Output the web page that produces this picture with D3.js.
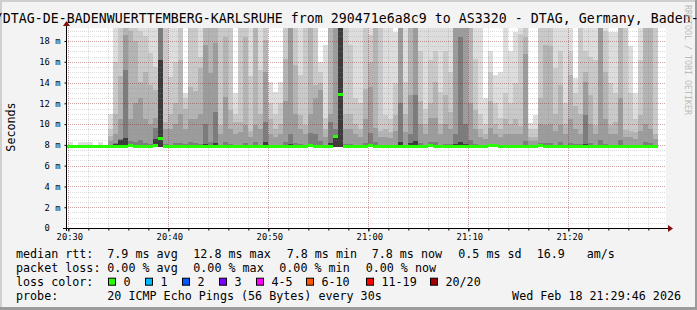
<!DOCTYPE html>
<html>
<head>
<meta charset="utf-8">
<script src="https://cdn.jsdelivr.net/npm/d3@7"></script>
<style>
  html, body { margin: 0; padding: 0; background: #f3f3f3; }
  svg { display: block; }
  text { font-family: "DejaVu Sans Mono", monospace; white-space: pre; }
</style>
</head>
<body>
<svg id="chart" width="697" height="310"></svg>
<script>
// ===== data (ms) =====
// one column every 30 s, first column starts 20:29:30 (partly outside the plot)
const graphStart = Date.UTC(2026, 1, 18, 20, 29, 46);
const graphEnd = Date.UTC(2026, 1, 18, 21, 29, 46);
const firstSample = Date.UTC(2026, 1, 18, 20, 29, 30);
const stepMs = 30 * 1000;
const minRtt = 7.75;
const yMax = 19.25;

// upper pings of each 20 ping round, from the highest (lightest smoke) down
const p20 = [7.9,
  8.3,7.9,8.3,8.3,8.3,7.9,8.3,7.9,11.0,20,
  20,20,20,20,20,20,20,20,20,20,
  20,20,20,13.0,20,20,20,20,20,20,
  20,20,20,13.0,20,20,20,20,20,20,
  14.1,13.1,14.1,20,20,20,20,20,20,20,
  16.0,17.6,20,20,20,20,20,20,20,20,
  20,20,20,20,20,18.9,20,20,20,20,
  20,20,20,20,20,20,20,20,20,20,
  20,20,20,12.5,17.0,14.7,15.0,20,17.0,18.9,
  20,20,10.1,10.9,20,20,20,20,20,20,
  20,14.4,20,20,20,20,20,20,18.9,18.9,
  20,20,17.5,13.0,20,20,20,20];
const p19 = [7.9,
  7.9,7.9,7.9,7.9,7.9,7.9,7.9,7.9,9.5,16.0,
  20,20,20,20,19.0,18.5,16.8,15.5,20,20,
  14.5,16.0,20,12.5,20,20,16.5,20,20,20,
  20,20,20,11.0,20,20,14.6,20,15.2,20,
  12.0,11.0,12.0,20,20,20,14.7,20,20,20,
  15.0,10.6,20,20,20,20,17.6,12.5,12.0,20,
  18.6,20,20,10.9,10.5,14.0,20,14.1,20,20,
  17.0,11.5,16.2,17.0,13.1,17.0,15.0,20,20,20,
  20,16.3,11.0,10.0,15.0,12.0,10.6,13.0,12.0,14.0,
  18.7,20,9.5,9.5,20,20,20,15.4,17.0,12.0,
  17.0,13.0,20,17.0,16.5,16.2,20,19.0,14.0,13.0,
  20,20,13.0,10.5,16.2,20,20,20];
const p18 = [7.9,
  7.9,7.9,7.9,7.9,7.9,7.9,7.9,7.9,8.9,11.0,
  14.6,20,19.0,18.0,14.1,15.0,13.8,13.3,20,10.2,
  11.0,12.0,16.2,11.5,13.6,13.2,15.4,20,20,20,
  9.9,18.4,11.4,10.2,10.2,18.4,9.3,20,11.0,18.1,
  10.5,9.5,10.0,16.3,20,15.7,10.9,9.9,20,13.8,
  14.0,9.5,20,20,20,11.0,11.0,10.0,9.5,13.4,
  16.0,20,9.3,9.5,9.2,10.9,20,11.0,20,20,
  12.2,10.0,12.0,14.1,10.0,12.8,11.2,20,20,20,
  20,11.4,9.5,9.0,12.2,10.0,9.5,10.5,10.0,10.5,
  9.8,18.4,8.8,8.8,12.5,17.6,17.5,11.0,13.8,10.0,
  14.7,11.7,11.0,15.0,12.8,9.9,20,15.0,9.9,10.2,
  20,9.4,9.3,9.2,10.9,20,20,9.0];
const p17 = [7.9,
  7.9,7.9,7.9,7.9,7.9,7.9,7.9,7.9,8.4,9.0,
  10.5,18.6,10.5,12.0,12.5,10.5,10.0,10.6,20,9.5,
  9.5,10.0,11.0,9.5,10.5,10.5,11.0,17.6,14.9,17.8,
  9.0,12.6,9.5,9.0,9.2,9.9,8.8,9.9,9.5,15.0,
  9.0,8.8,9.0,12.2,20,11.0,9.5,9.0,11.0,12.5,
  13.3,8.8,11.0,20,20,9.5,9.5,9.0,8.8,10.5,
  13.6,9.6,8.8,8.8,8.7,9.3,20,9.2,12.8,20,
  10.0,9.0,10.6,10.6,9.0,10.0,9.5,20,20,20,
  12.0,9.5,8.8,8.6,9.6,9.0,8.8,9.0,9.0,9.0,
  9.0,16.7,8.4,8.4,10.0,9.9,10.0,9.3,9.9,9.0,
  10.5,9.5,9.0,14.1,10.0,9.0,20,10.5,9.0,9.0,
  12.5,8.8,8.8,8.6,9.3,10.0,9.5,8.6];
const p14 = [7.9,
  7.9,7.9,7.9,7.9,7.9,7.9,7.9,7.9,8.0,8.2,
  8.6,15.2,8.4,8.3,8.5,8.2,8.1,9.6,20,8.1,
  8.0,8.2,8.2,8.1,8.3,8.2,8.1,10.0,8.3,11.2,
  8.0,8.3,8.1,8.0,8.0,8.2,8.0,8.3,8.0,10.2,
  8.0,8.0,8.0,8.3,9.0,8.2,8.1,8.0,9.1,9.0,
  8.4,8.0,10.2,9.5,20,8.1,8.1,8.0,8.0,8.2,
  9.1,8.3,8.0,8.0,8.0,8.0,12.0,8.0,9.0,12.8,
  8.2,8.0,8.3,8.3,8.0,8.1,8.1,9.0,18.4,10.0,
  8.5,8.1,8.0,8.0,8.1,8.0,8.0,8.0,8.0,8.0,
  8.0,8.4,7.9,7.9,8.2,8.2,8.2,8.0,8.3,8.0,
  8.2,8.1,8.1,10.9,8.2,8.0,8.5,8.1,8.0,8.0,
  8.5,8.0,8.0,8.0,8.0,8.3,8.2,8.0];
const p12 = [7.9,
  7.9,7.9,7.9,7.9,7.9,7.9,7.9,7.9,7.9,8.1,
  8.5,8.7,8.1,7.9,7.9,7.9,7.9,8.6,16.2,7.9,
  7.9,7.9,7.9,7.9,7.9,7.9,7.9,8.1,7.9,8.2,
  7.9,7.9,7.9,7.9,7.9,7.9,7.9,7.9,7.9,8.3,
  7.9,7.9,7.9,7.9,8.1,7.9,7.9,7.9,8.1,8.0,
  7.9,7.9,8.2,8.8,20,7.9,7.9,7.9,7.9,7.9,
  8.1,7.9,7.9,7.9,7.9,7.9,8.3,7.9,8.2,8.4,
  7.9,7.9,7.9,7.9,7.9,7.9,7.9,8.1,8.3,8.1,
  7.9,7.9,7.9,7.9,7.9,7.9,7.9,7.9,7.9,7.9,
  7.9,7.9,7.9,7.9,7.9,7.9,7.9,7.9,7.9,7.9,
  7.9,7.9,7.9,8.1,7.9,7.9,7.9,7.9,7.9,7.9,
  7.9,7.9,7.9,7.9,7.9,7.9,7.9,7.9];
const median = [7.8,
  7.8,7.8,7.8,7.8,7.8,7.8,7.8,7.8,7.8,7.8,
  7.8,7.8,7.9,7.8,7.8,7.8,7.8,7.9,8.6,7.8,
  7.8,7.8,7.8,7.8,7.8,7.8,7.8,7.8,7.8,7.8,
  7.8,7.8,7.8,7.8,7.8,7.8,7.8,7.8,7.8,7.8,
  7.8,7.8,7.8,7.8,7.8,7.8,7.8,7.8,7.9,7.8,
  7.8,7.8,7.8,8.8,12.8,7.8,7.8,7.8,7.8,7.8,
  7.9,7.8,7.8,7.8,7.8,7.8,7.8,7.8,7.8,7.8,
  7.8,7.8,7.9,7.8,7.8,7.8,7.8,7.8,7.8,7.8,
  7.8,7.8,7.8,7.8,7.9,7.9,7.8,7.8,7.8,7.8,
  7.8,7.8,7.8,7.8,7.9,7.8,7.8,7.8,7.8,7.8,
  7.8,7.8,7.8,7.8,7.8,7.8,7.8,7.8,7.8,7.8,
  7.8,7.8,7.8,7.8,7.8,7.8,7.8,7.8];

const smokeSeries = [p20, p19, p18, p17, p14, p12];
const smokeColors = ['#dddddd', '#c9c9c9', '#b4b4b4', '#9c9c9c', '#7c7c7c', '#3c3c3c'];

const yTicks = [0, 2, 4, 6, 8, 10, 12, 14, 16, 18];

const titleText = '/DTAG-DE-BADENWUERTTEMBERG-KARLSRUHE from 290471e6a8c9 to AS3320 - DTAG, Germany, Baden-';
const rttStats = ['7.9 ms avg', '12.8 ms max', '7.8 ms min', '7.8 ms now', '0.5 ms sd', '16.9', 'am/s'];
const lossStats = ['0.00 % avg', '0.00 % max', '0.00 % min', '0.00 % now'];
const lossLabels = ['0', '1', '2', '3', '4-5', '6-10', '11-19', '20/20'];
const lossColors = ['#26ff00', '#00b8ff', '#0059ff', '#7e00ff', '#ff00ff', '#ff5500', '#ff0000', '#a10000'];
const probeText = '20 ICMP Echo Pings (56 Bytes) every 30s';
const stampText = 'Wed Feb 18 21:29:46 2026';

// ===== layout =====
const W = 697, H = 310;
const plot = { left: 66, right: 666, top: 28, bottom: 228 };

const svg = d3.select('#chart');

const x = d3.scaleUtc().domain([graphStart, graphEnd]).range([plot.left, plot.right]);
const y = d3.scaleLinear().domain([0, yMax]).range([plot.bottom, plot.top]);

// background + rrdtool style frame
svg.append('rect').attr('width', W).attr('height', H).attr('fill', '#f3f3f3');
svg.append('rect').attr('x', 0).attr('y', 0).attr('width', W).attr('height', 2).attr('fill', '#cfcfcf');
svg.append('rect').attr('x', 0).attr('y', 0).attr('width', 2).attr('height', H).attr('fill', '#cfcfcf');
svg.append('rect').attr('x', 0).attr('y', H - 3).attr('width', W).attr('height', 3).attr('fill', '#9b9b9b');
svg.append('rect').attr('x', W - 2).attr('y', 0).attr('width', 2).attr('height', H).attr('fill', '#9b9b9b');

svg.append('rect')
    .attr('x', plot.left).attr('y', plot.top)
    .attr('width', plot.right - plot.left).attr('height', plot.bottom - plot.top)
    .attr('fill', '#ffffff');

svg.append('clipPath').attr('id', 'plotclip')
  .append('rect')
    .attr('x', plot.left).attr('y', plot.top)
    .attr('width', plot.right - plot.left).attr('height', plot.bottom - plot.top);

const sampleTime = i => firstSample + i * stepMs;
const colX = i => Math.round(x(sampleTime(i)));
const colW = i => Math.round(x(sampleTime(i + 1))) - colX(i);
const clampV = v => Math.min(v, yMax + 0.5);

// ===== smoke (lightest first, darker bands painted over it) =====
const smoke = svg.append('g').attr('clip-path', 'url(#plotclip)').attr('shape-rendering', 'crispEdges');
smokeSeries.forEach((series, s) => {
  smoke.append('g')
    .selectAll('rect')
    .data(series.map((v, i) => ({ v, i })).filter(d => d.v > minRtt))
    .enter()
    .append('rect')
      .attr('x', d => colX(d.i))
      .attr('width', d => colW(d.i))
      .attr('y', d => Math.round(y(clampV(d.v))))
      .attr('height', d => Math.round(y(minRtt)) - Math.round(y(clampV(d.v))))
      .attr('fill', smokeColors[s]);
});

// ===== grid, drawn over the smoke like rrdtool =====
const grid = svg.append('g').attr('shape-rendering', 'crispEdges');
const minorCol = 'rgba(140,140,140,0.30)';
const majorCol = 'rgba(130,30,30,0.40)';

const yMinor = d3.range(0.5, yMax, 0.5).filter(v => v % 2 !== 0);
grid.selectAll('.hmin').data(yMinor).enter().append('line')
    .attr('x1', plot.left).attr('x2', plot.right)
    .attr('y1', d => Math.round(y(d)) + 0.5).attr('y2', d => Math.round(y(d)) + 0.5)
    .attr('stroke', minorCol).attr('stroke-dasharray', '1,1');

const xMinor = d3.utcMinute.every(2).range(graphStart, graphEnd).filter(t => t.getUTCMinutes() % 10 !== 0);
grid.selectAll('.vmin').data(xMinor).enter().append('line')
    .attr('y1', plot.top).attr('y2', plot.bottom)
    .attr('x1', d => Math.round(x(d)) + 0.5).attr('x2', d => Math.round(x(d)) + 0.5)
    .attr('stroke', minorCol).attr('stroke-dasharray', '1,1');

grid.selectAll('.hmaj').data(yTicks.filter(v => v > 0)).enter().append('line')
    .attr('x1', plot.left).attr('x2', plot.right)
    .attr('y1', d => Math.round(y(d)) + 0.5).attr('y2', d => Math.round(y(d)) + 0.5)
    .attr('stroke', majorCol).attr('stroke-dasharray', '1,1');

const xMajor = d3.utcMinute.every(10).range(graphStart, graphEnd);
grid.selectAll('.vmaj').data(xMajor).enter().append('line')
    .attr('y1', plot.top).attr('y2', plot.bottom)
    .attr('x1', d => Math.round(x(d)) + 0.5).attr('x2', d => Math.round(x(d)) + 0.5)
    .attr('stroke', majorCol).attr('stroke-dasharray', '1,1');

// ===== median bars (loss 0 colour) =====
svg.append('g').attr('clip-path', 'url(#plotclip)').attr('shape-rendering', 'crispEdges')
  .selectAll('rect')
  .data(median.map((v, i) => ({ v, i })))
  .enter()
  .append('rect')
    .attr('x', d => colX(d.i))
    .attr('width', d => colW(d.i))
    .attr('y', d => Math.round(y(d.v)) - 2)
    .attr('height', 2.5)
    .attr('fill', lossColors[0]);

// ===== axes =====
const xAxis = d3.axisBottom(x)
    .ticks(d3.utcMinute.every(10))
    .tickFormat(d3.utcFormat('%H:%M'))
    .tickSize(3);
const gx = svg.append('g').attr('transform', `translate(0,${plot.bottom + 0.5})`).call(xAxis);
gx.select('.domain').remove();
gx.selectAll('line').attr('stroke', '#000');
gx.selectAll('text')
    .attr('y', 11.5).attr('dy', null).attr('dx', 1)
    .attr('fill', '#000')
    .style('font-size', '8.8px')
    .style('font-family', '"DejaVu Sans Mono", monospace');

const xAxisMinor = d3.axisBottom(x).ticks(d3.utcMinute.every(2)).tickFormat('').tickSize(2);
const gxm = svg.append('g').attr('transform', `translate(0,${plot.bottom + 0.5})`).call(xAxisMinor);
gxm.select('.domain').remove();
gxm.selectAll('line').attr('stroke', '#000');

const yAxis = d3.axisLeft(y)
    .tickValues(yTicks)
    .tickSize(2)
    .tickPadding(4)
    .tickFormat(d => d === 0 ? '0\u00a0\u00a0' : d + ' m');
const gy = svg.append('g').attr('transform', `translate(${plot.left + 0.5},0)`).call(yAxis);
gy.select('.domain').remove();
gy.selectAll('line').attr('stroke', '#000');
gy.selectAll('text')
    .attr('fill', '#000')
    .style('font-size', '8.8px')
    .style('font-family', '"DejaVu Sans Mono", monospace');

// axis lines with arrows
svg.append('line')
    .attr('x1', plot.left - 3).attr('x2', plot.right + 4)
    .attr('y1', plot.bottom + 0.5).attr('y2', plot.bottom + 0.5)
    .attr('stroke', '#000').attr('stroke-width', 1);
svg.append('line')
    .attr('x1', plot.left + 0.5).attr('x2', plot.left + 0.5)
    .attr('y1', plot.bottom + 3).attr('y2', plot.top - 5)
    .attr('stroke', '#000').attr('stroke-width', 1);
svg.append('path')
    .attr('d', `M${plot.right + 2},${plot.bottom - 3} L${plot.right + 7},${plot.bottom + 0.5} L${plot.right + 2},${plot.bottom + 4} Z`)
    .attr('fill', '#7f1010');
svg.append('path')
    .attr('d', `M${plot.left - 3},${plot.top - 2} L${plot.left + 0.5},${plot.top - 7} L${plot.left + 4},${plot.top - 2} Z`)
    .attr('fill', '#7f1010');

// ===== texts =====
// the long title is centred by rrdtool and runs past both edges
svg.append('text')
    .attr('x', -5.2).attr('y', 23)
    .attr('textLength', 704).attr('lengthAdjust', 'spacing')
    .style('font-size', '13.2px')
    .text(titleText);

svg.append('text')
    .attr('transform', 'translate(14.5,127) rotate(-90)')
    .attr('text-anchor', 'middle')
    .style('font-size', '11.7px')
    .text('Seconds');

svg.append('text')
    .attr('transform', 'translate(685,5) rotate(90)')
    .style('font-size', '8.3px')
    .attr('fill', '#bcbcbc')
    .text('RRDTOOL / TOBI OETIKER');

// legend
const legend = svg.append('g').style('font-size', '11.7px');
const row = [257.7, 271.7, 285.7, 299.5];

legend.append('text').attr('x', 16).attr('y', row[0]).text('median rtt:');
const rttX = [107.3, 193.3, 286.7, 371.7, 458.3, 536.7, 586.7];
legend.selectAll('.rtt').data(rttStats).enter().append('text')
    .attr('x', (d, i) => rttX[i]).attr('y', row[0]).text(d => d);

legend.append('text').attr('x', 16).attr('y', row[1]).text('packet loss:');
const lossX = [107.3, 193.3, 279.3, 365.7];
legend.selectAll('.loss').data(lossStats).enter().append('text')
    .attr('x', (d, i) => lossX[i]).attr('y', row[1]).text(d => d);

legend.append('text').attr('x', 16).attr('y', row[2]).text('loss color:');
const boxX = [108.5, 145.5, 182.5, 219.5, 256.5, 306.5, 366.5, 430.5];
legend.selectAll('.lbox').data(lossColors).enter().append('rect')
    .attr('x', (d, i) => boxX[i]).attr('y', row[2] - 7.5)
    .attr('width', 7).attr('height', 7)
    .attr('fill', d => d).attr('stroke', '#000').attr('stroke-width', 1);
legend.selectAll('.llab').data(lossLabels).enter().append('text')
    .attr('x', (d, i) => boxX[i] + 15).attr('y', row[2]).text(d => d);

legend.append('text').attr('x', 16).attr('y', row[3]).text('probe:');
legend.append('text').attr('x', 107.3).attr('y', row[3]).text(probeText);
legend.append('text').attr('x', 681).attr('y', row[3] + 0.5).attr('text-anchor', 'end').text(stampText);
</script>
</body>
</html>
